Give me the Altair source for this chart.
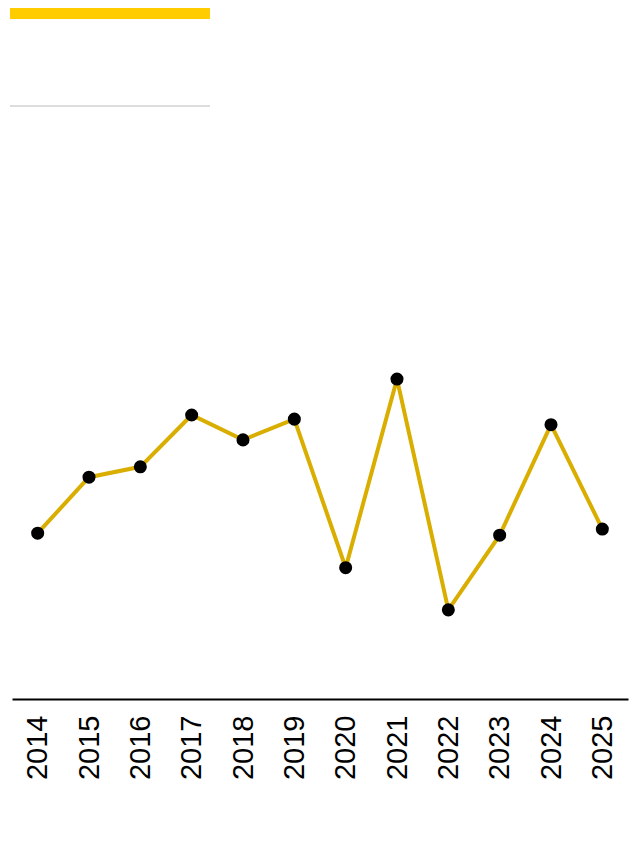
import altair as alt
import pandas as pd

years = ["2014", "2015", "2016", "2017", "2018", "2019", "2020", "2021", "2022", "2023", "2024", "2025"]
values = [24.0, 32.1, 33.6, 41.1, 37.5, 40.5, 19.0, 46.3, 12.9, 23.7, 39.7, 24.6]

df = pd.DataFrame({"year": years, "value": values})

x_enc = alt.X("year:O", title=None,
              axis=alt.Axis(labelAngle=-90, labelFontSize=29, labelFont="Liberation Sans",
                            labelColor="#000", labelPadding=16, ticks=False,
                            domainColor="#000", domainWidth=2, labelBaseline="middle",
                            labelAlign="right"))
y_enc = alt.Y("value:Q", title=None, scale=alt.Scale(domain=[0, 100]), axis=None)

base = alt.Chart(df)
line = base.mark_line(color="#D9AE00", strokeWidth=4).encode(x=x_enc, y=y_enc)
pts = base.mark_point(filled=True, color="#000", size=170, opacity=1).encode(x=x_enc, y=y_enc)

bar = alt.Chart(pd.DataFrame({"a": [1]})).mark_rect(color="#FFCC00").encode(
    x=alt.value(-2), x2=alt.value(198), y=alt.value(0), y2=alt.value(11))
rule = alt.Chart(pd.DataFrame({"a": [1]})).mark_rule(color="#DDDDDD", strokeWidth=2).encode(
    x=alt.value(-2), x2=alt.value(198), y=alt.value(98))

chart = alt.layer(bar, rule, line, pts).properties(
    width=616, height=691,
    autosize=alt.AutoSizeParams(type="none"),
    padding={"left": 4, "top": 0, "right": 4, "bottom": 120},
).configure_view(stroke=None)

chart.save("out.html", embed_options={"renderer": "svg", "actions": False})
